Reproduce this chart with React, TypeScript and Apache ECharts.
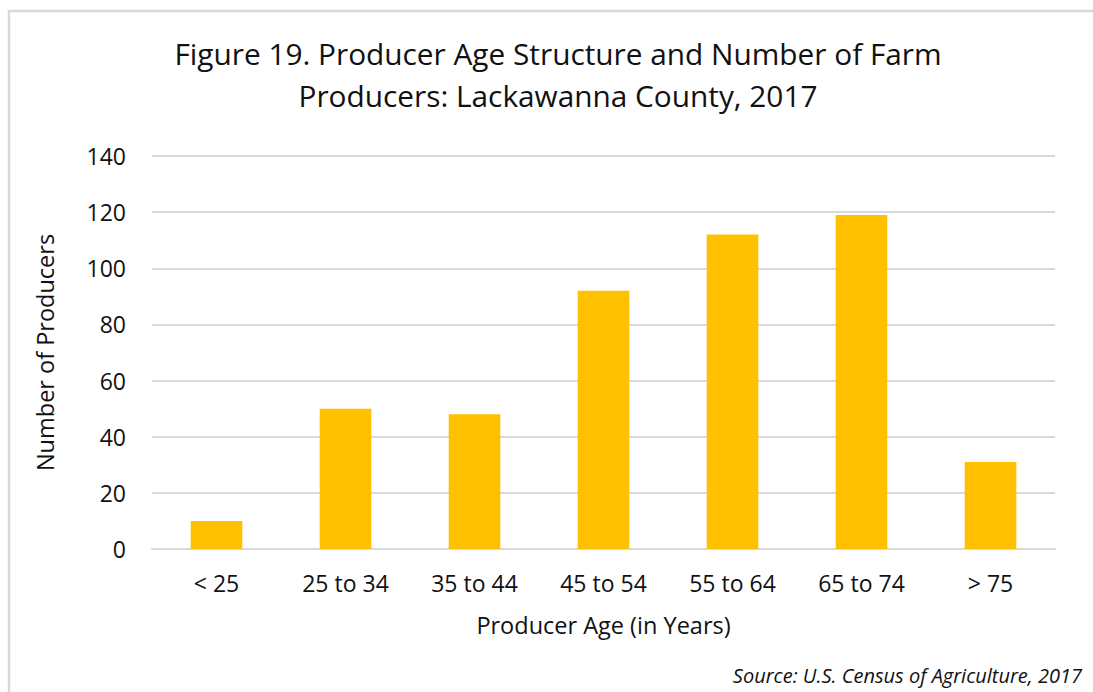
import React, { useEffect, useRef } from "react";
import * as echarts from "echarts";

const categories = ["< 25", "25 to 34", "35 to 44", "45 to 54", "55 to 64", "65 to 74", "> 75"];
const producers = [10, 50, 48, 92, 112, 119, 31];
const titleLines = ["Figure 19. Producer Age Structure and Number of Farm", "Producers: Lackawanna County, 2017"];
const sourceText = "Source: U.S. Census of Agriculture, 2017";

const FONT = "'Open Sans', 'Noto Sans', sans-serif";

export default function App() {
  const ref = useRef<HTMLDivElement>(null);
  useEffect(() => {
    if (!ref.current) return;
    const chart = echarts.init(ref.current, null, { renderer: "svg" });
    chart.setOption({
      animation: false,
      backgroundColor: "#ffffff",
      textStyle: { fontFamily: FONT },
      title: {
        text: titleLines.join("\n"),
        left: 553,
        textAlign: "center",
        top: 27,
        textStyle: { fontSize: 29.8, fontWeight: "normal", color: "#111", lineHeight: 42, fontFamily: FONT },
      },
      grid: { left: 152, right: 38, top: 156, bottom: 143, containLabel: false },
      xAxis: {
        type: "category",
        data: categories,
        name: "Producer Age (in Years)",
        nameLocation: "middle",
        nameGap: 64,
        nameTextStyle: { fontSize: 23.5, color: "#111", fontFamily: FONT },
        axisLine: { lineStyle: { color: "#d9d9d9", width: 2 } },
        axisTick: { show: false },
        axisLabel: { fontSize: 23, color: "#111", margin: 22, fontFamily: FONT },
      },
      yAxis: {
        type: "value",
        min: 0,
        max: 140,
        interval: 20,
        name: "Number of Producers",
        nameLocation: "middle",
        nameGap: 95,
        nameTextStyle: { fontSize: 23.5, color: "#111", fontFamily: FONT },
        axisLine: { show: false },
        axisTick: { show: false },
        axisLabel: { fontSize: 23, color: "#111", margin: 26, fontFamily: FONT },
        splitLine: { lineStyle: { color: "#d9d9d9", width: 2 } },
      },
      series: [
        {
          type: "bar",
          data: producers,
          barCategoryGap: "60%",
          itemStyle: { color: "#ffc000" },
        },
      ],
      graphic: [
        {
          type: "rect",
          shape: { x: 9, y: 11, width: 1200, height: 800 },
          style: { fill: "none", stroke: "#d9d9d9", lineWidth: 2.5 },
          silent: true,
        },
        {
          type: "text",
          right: 11,
          top: 665,
          style: {
            text: sourceText,
            font: `italic 20px ${FONT}`,
            fill: "#111",
          },
        },
      ],
    });
    return () => chart.dispose();
  }, []);
  return <div ref={ref} style={{ position: "absolute", left: 0, top: 0, width: 1093, height: 692 }} />;
}
